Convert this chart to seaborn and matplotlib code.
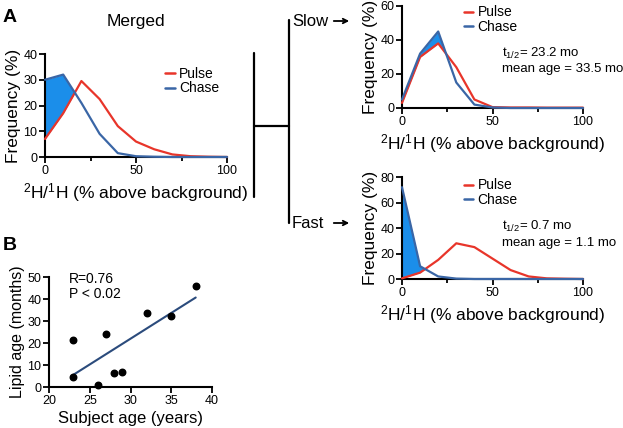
import numpy as np
import pandas as pd
import matplotlib
matplotlib.use('Agg')
import matplotlib.pyplot as plt
from matplotlib.lines import Line2D
from matplotlib.patches import FancyArrowPatch
import seaborn as sns

# ---- data ----
bins = [0, 10, 20, 30, 40, 50, 60, 70, 80, 90, 100]

merged_pulse = [7, 17, 29.5, 22.5, 12, 6, 3, 1, 0.3, 0.1, 0]
merged_chase = [30, 32, 21, 9, 1.5, 0.3, 0.1, 0, 0, 0, 0]

slow_pulse = [3, 30, 38, 24, 5, 0.5, 0.3, 0.3, 0.2, 0.2, 0.2]
slow_chase = [5, 32, 45, 15, 2, 0.3, 0, 0, 0, 0, 0]

fast_pulse = [0.5, 5, 15, 28, 25, 16, 7, 2, 0.5, 0.2, 0]
fast_chase = [72, 10, 2, 0.3, 0, 0, 0, 0, 0, 0, 0]

subject_age = [23, 23, 26, 27, 28, 29, 32, 35, 38]
lipid_age = [21.5, 4.5, 1, 24, 6.5, 7, 33.5, 32.5, 46]

PULSE = '#e8352a'
CHASE = '#3a66a6'
FILL = '#1b8eea'

sns.set_style('ticks')
plt.rcParams['font.family'] = ['Liberation Sans', 'DejaVu Sans']
plt.rcParams['mathtext.fontset'] = 'custom'
plt.rcParams['mathtext.rm'] = 'Liberation Sans'
plt.rcParams['mathtext.it'] = 'Liberation Sans'
plt.rcParams['text.color'] = 'black'
plt.rcParams['axes.labelcolor'] = 'black'
plt.rcParams['xtick.color'] = 'black'
plt.rcParams['ytick.color'] = 'black'

W, H = 623, 428
fig = plt.figure(figsize=(W / 100, H / 100), dpi=100)


def px_axes(left, top, right, bottom):
    return fig.add_axes([left / W, 1 - bottom / H, (right - left) / W, (bottom - top) / H])


def style_axes(ax):
    sns.despine(ax=ax)
    for s in ['left', 'bottom']:
        ax.spines[s].set_linewidth(1.5)
        ax.spines[s].set_color('black')
    ax.tick_params(which='major', direction='out', length=4, width=1.3, labelsize=9, pad=1.5, colors='black')
    ax.tick_params(which='minor', direction='out', length=3, width=1.3, colors='black')


def hist_panel(ax, pulse, chase, ymax, ystep, legend_xy):
    df = pd.DataFrame({
        'x': bins * 2,
        'freq': list(pulse) + list(chase),
        'group': ['Pulse'] * len(bins) + ['Chase'] * len(bins),
    })
    p = np.array(pulse)
    c = np.array(chase)
    ax.fill_between(bins, p, c, where=c > p, interpolate=True, color=FILL, lw=0, zorder=1)
    sns.lineplot(data=df, x='x', y='freq', hue='group', palette={'Pulse': PULSE, 'Chase': CHASE},
                 ax=ax, lw=1.6, legend=False, zorder=3, clip_on=False)
    ax.set_xlim(0, 100)
    ax.set_ylim(0, ymax)
    ax.set_xticks([0, 50, 100])
    ax.set_xticks([25, 75], minor=True)
    ax.set_yticks(np.arange(0, ymax + 1, ystep))
    ax.set_xlabel('$^2$H/$^1$H (% above background)', fontsize=12.5, labelpad=3)
    ax.set_ylabel('Frequency (%)', fontsize=12.5, labelpad=2)
    style_axes(ax)
    handles = [Line2D([], [], color=PULSE, lw=1.8), Line2D([], [], color=CHASE, lw=1.8)]
    ax.legend(handles, ['Pulse', 'Chase'], loc='upper left', bbox_to_anchor=legend_xy,
              frameon=False, fontsize=10, handlelength=0.7, handletextpad=0.3,
              labelspacing=0.05, borderaxespad=0)


# ---- panel A: merged ----
ax1 = px_axes(45, 54, 227, 157)
hist_panel(ax1, merged_pulse, merged_chase, 40, 10, (0.63, 0.93))
ax1.set_title('Merged', fontsize=12.5, pad=20)

# ---- slow ----
ax2 = px_axes(402, 6, 583, 108)
hist_panel(ax2, slow_pulse, slow_chase, 60, 20, (0.31, 1.06))
ax2.text(55, 32, 't$_{1/2}$= 23.2 mo', fontsize=9.5, va='center')
ax2.text(55, 23, 'mean age = 33.5 mo', fontsize=9.5, va='center')

# ---- fast ----
ax3 = px_axes(402, 177, 583, 279)
hist_panel(ax3, fast_pulse, fast_chase, 80, 20, (0.31, 1.04))
ax3.text(55, 41, 't$_{1/2}$= 0.7 mo', fontsize=9.5, va='center')
ax3.text(55, 28.5, 'mean age = 1.1 mo', fontsize=9.5, va='center')

# ---- panel B ----
ax4 = px_axes(49, 277, 212, 387)
df_b = pd.DataFrame({'subject': subject_age, 'lipid': lipid_age})
sns.regplot(data=df_b, x='subject', y='lipid', ci=None, ax=ax4, color='black',
            scatter_kws={'s': 22, 'zorder': 3, 'clip_on': False, 'alpha': 1},
            line_kws={'color': '#2b4b7c', 'lw': 1.5})
ax4.set_xlim(20, 40)
ax4.set_ylim(0, 50)
ax4.set_xticks([20, 25, 30, 35, 40])
ax4.set_yticks([0, 10, 20, 30, 40, 50])
ax4.set_xlabel('Subject age (years)', fontsize=12, labelpad=3)
ax4.set_ylabel('Lipid age (months)', fontsize=11.5, labelpad=2)
style_axes(ax4)
ax4.text(22.5, 49, 'R=0.76', fontsize=10, va='center')
ax4.text(22.5, 42.5, 'P < 0.02', fontsize=10, va='center')

# ---- panel letters ----
fig.text(3 / W, 1 - 17 / H, 'A', fontsize=14, fontweight='bold', va='center')
fig.text(3 / W, 1 - 245 / H, 'B', fontsize=14, fontweight='bold', va='center')

# ---- bracket connecting merged to slow / fast ----
def fig_line(x0, y0, x1, y1):
    fig.add_artist(Line2D([x0 / W, x1 / W], [1 - y0 / H, 1 - y1 / H], color='black', lw=1.6))


fig_line(254, 53, 254, 197)
fig_line(254, 126, 289, 126)
fig_line(289, 20, 289, 223)

fig.text(292 / W, 1 - 21 / H, 'Slow', fontsize=12, va='center')
fig.text(292 / W, 1 - 223 / H, 'Fast', fontsize=12, va='center')
for y in (21, 223):
    fig.add_artist(FancyArrowPatch(
        (331 / W, 1 - y / H), (352 / W, 1 - y / H), transform=fig.transFigure,
        arrowstyle='->', mutation_scale=8, lw=1.3, color='black'))

fig.savefig('out.png', dpi=100)
